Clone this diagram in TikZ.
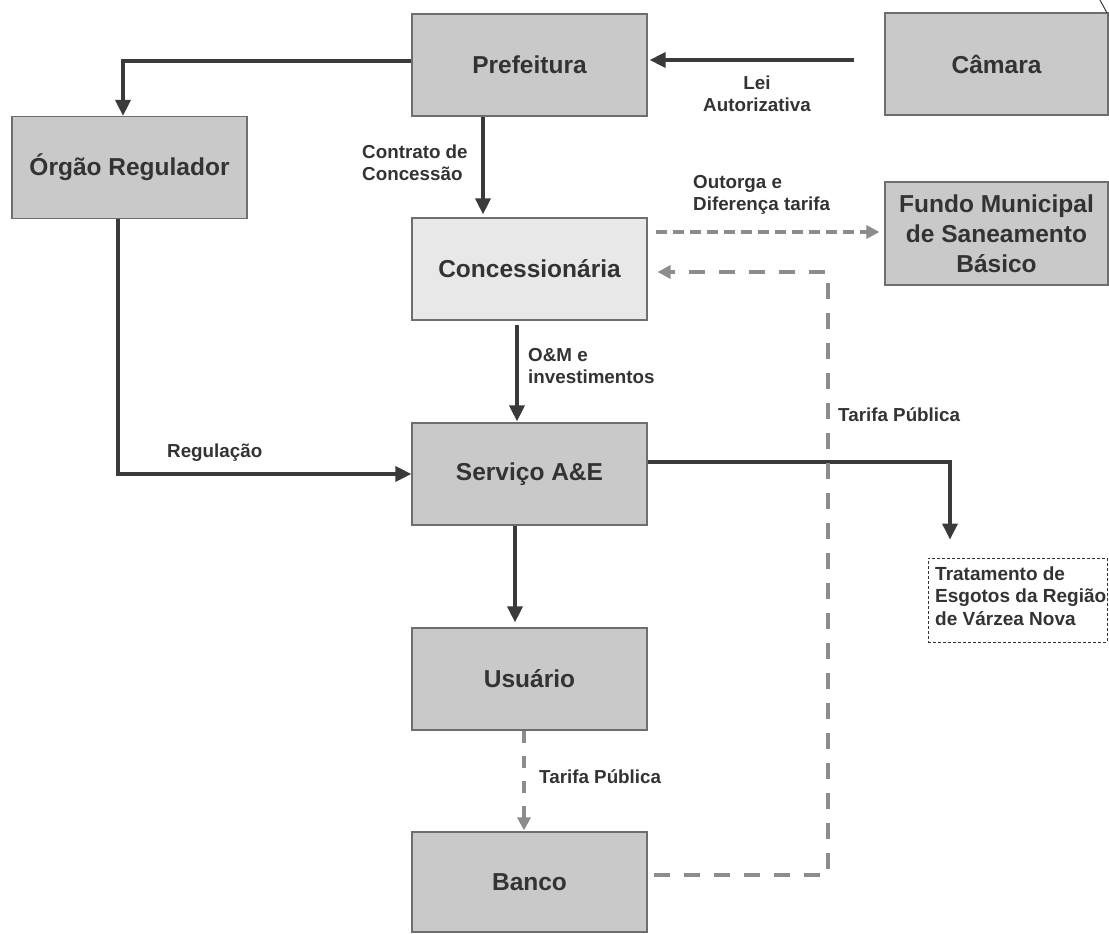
\documentclass[tikz,border=0pt]{standalone}
\usepackage{fontspec}
\setmainfont{Liberation Sans}
\usetikzlibrary{arrows.meta,calc}
\definecolor{boxfill}{HTML}{C9C9C9}
\definecolor{boxlight}{HTML}{E8E8E8}
\definecolor{boxline}{HTML}{6E6E6E}
\definecolor{ink}{HTML}{333333}
\definecolor{darkarrow}{HTML}{3A3A3A}
\definecolor{grayarrow}{HTML}{8C8C8C}
\tikzset{
  box/.style={draw=boxline, line width=1.2pt, fill=boxfill, minimum width=235pt, minimum height=102pt,
    inner sep=0pt, text=ink, font=\fontsize{24.5}{30}\selectfont\bfseries, align=center},
  lbl/.style={text=ink, font=\fontsize{18.8}{21.5}\selectfont\bfseries, align=left, inner sep=0pt},
  solidarrow/.style={draw=darkarrow, line width=3.5pt, -{Triangle[length=16pt,width=15pt]}},
  grayarrow/.style={draw=grayarrow, line width=3.5pt, -{Triangle[length=13pt,width=13pt]}},
}
\begin{document}
\begin{tikzpicture}[x=1pt,y=-1pt]
\useasboundingbox (0,0) rectangle (1109,934);
% boxes
\node[box] (pref) at (529.5,65) {Prefeitura};
\node[box, minimum width=223pt] (cam) at (996.5,64) {Câmara};
\node[box] (org) at (129.5,167.5) {Órgão Regulador};
\node[box, fill=boxlight] (conc) at (529.5,269) {Concessionária};
\node[box, minimum width=223pt, minimum height=103pt] (fundo) at (996.5,233.5) {Fundo Municipal\\de Saneamento\\Básico};
\node[box] (serv) at (529.5,474) {Serviço A\&E};
\node[box] (usu) at (529.5,679) {Usuário};
\node[box, minimum height=100pt] (banco) at (529.5,882) {Banco};
\node[draw=ink, line width=0.9pt, dash pattern=on 3pt off 2pt, minimum width=179pt, minimum height=84pt,
  inner sep=0pt] (trat) at (1017.5,600) {};
\node[lbl, anchor=west, font=\fontsize{19}{22.5}\selectfont\bfseries] (trattext) at (935,596)
  {Tratamento de\\Esgotos da Região\\de Várzea Nova};
% stray stroke at top right
\draw[darkarrow, line width=1pt] (1100,0) -- (1107,13);
% labels
\node[lbl, align=center] (lei) at (757,94) {Lei\\Autorizativa};
\node[lbl, anchor=west] (contr) at (362,163) {Contrato de\\Concessão};
\node[lbl, anchor=west] (outorga) at (693,195) {Outorga e\\Diferença tarifa};
\node[lbl, anchor=west] (om) at (528,366) {O\&M e\\ investimentos};
\node[lbl, anchor=west] (regul) at (167,453) {Regulação};
\node[lbl, anchor=west] (tar1) at (838,415) {Tarifa Pública};
\node[lbl, anchor=west] (tar2) at (539,777) {Tarifa Pública};
% solid connectors
\coordinate (c1) at ([xshift=-30pt,yshift=4pt]cam.west);
\draw[solidarrow, shorten >=2pt] (c1) -- (c1 -| pref.east);
\draw[solidarrow] ([yshift=4pt]pref.west) -| ([xshift=-6.5pt]org.north);
\draw[solidarrow, shorten >=3pt] ([xshift=-46.5pt]pref.south) -- ([xshift=-46.5pt]conc.north);
\draw[solidarrow, shorten <=4pt, shorten >=1pt] ([xshift=-12.5pt]conc.south) -- ([xshift=-12.5pt]serv.north);
\draw[solidarrow] ([xshift=-11.5pt]org.south) |- (serv.west);
\draw[solidarrow, shorten >=18pt] ([yshift=12pt]serv.east) -| ([xshift=-67.5pt]trat.north);
\draw[solidarrow, shorten >=5pt] ([xshift=-14.5pt]serv.south) -- ([xshift=-14.5pt]usu.north);
% dashed gray connectors
\draw[grayarrow, dash pattern=on 12pt off 13pt, shorten >=1pt] ([xshift=-5.5pt]usu.south) -- ([xshift=-5.5pt]banco.north);
\coordinate (b1) at ([xshift=6pt,yshift=7pt]banco.east);
\coordinate (vx) at (828,0);
\coordinate (c2) at ([yshift=-3pt]conc.east);
\draw[grayarrow, dash pattern=on 16pt off 14pt, shorten >=10pt] (b1) -| (vx |- c2) -- (c2);
\coordinate (c3) at ([xshift=8pt,yshift=37pt]conc.east);
\draw[grayarrow, dash pattern=on 11pt off 6pt, shorten >=5pt] (c3) -- (c3 -| fundo.west);
\end{tikzpicture}
\end{document}
